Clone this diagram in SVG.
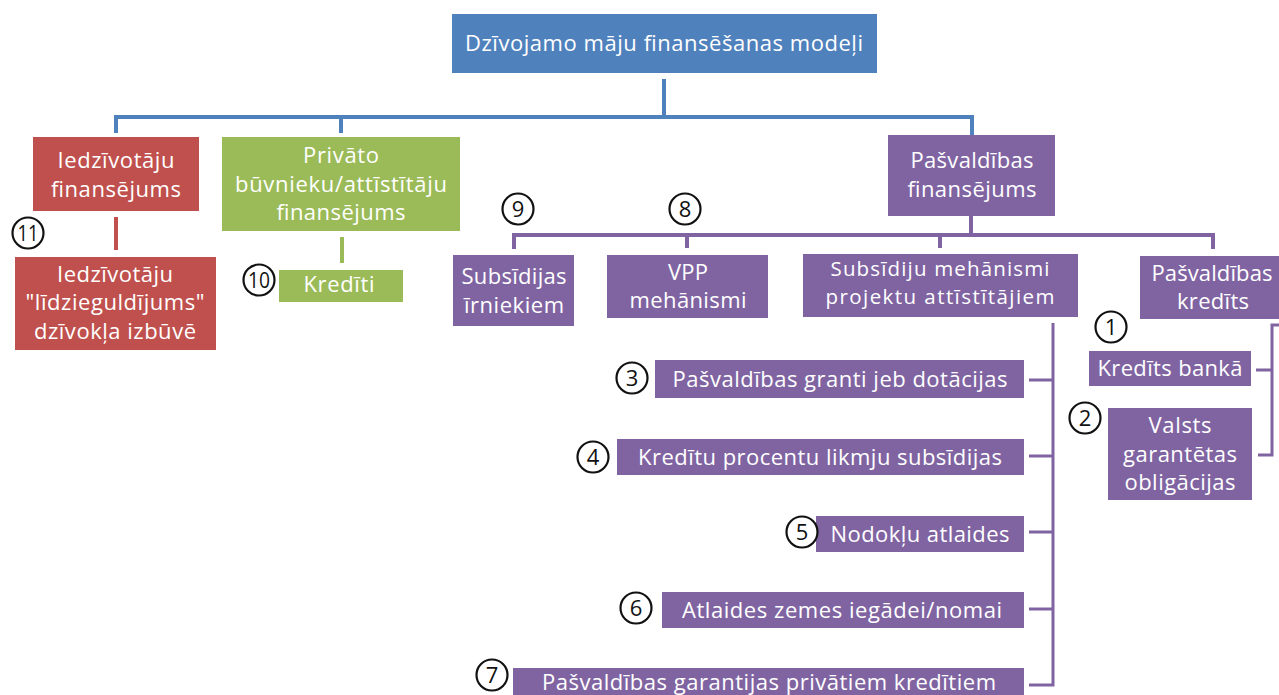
<svg xmlns="http://www.w3.org/2000/svg" width="1279" height="695" viewBox="0 0 1279 695">
<style>
text{font-family:"Open Sans","Noto Sans","Liberation Sans",sans-serif;font-size:22px;fill:#ffffff;text-anchor:middle}
text.t{font-size:20.5px}
.blue{fill:#4F81BD}.red{fill:#C0504D}.green{fill:#9BBB59}.purple{fill:#8064A2}
.c circle{fill:#ffffff;stroke:#111111;stroke-width:2.2}
.c text{fill:#111111;font-size:22px}
.c text.s{font-size:21px}
.lb{stroke:#4F81BD;stroke-width:4;fill:none}
.lr{stroke:#C0504D;stroke-width:4;fill:none}
.lg{stroke:#9BBB59;stroke-width:4;fill:none}
.lp{stroke:#8064A2;stroke-width:4;fill:none}
.lp3{stroke:#8064A2;stroke-width:3;fill:none}
</style>
<rect width="1279" height="695" fill="#ffffff"/>
<g id="connectors">
<path class="lb" d="M664,79 V117 M116,133 V117 H972 V135 M341,117 V133"/>
<path class="lr" d="M116,217 V250"/>
<path class="lg" d="M342,237 V263"/>
<path class="lp" d="M971,216 V235 M514,249 V235 H1213 V249 M687,235 V248 M940,235 V248"/>
<path class="lp3" d="M1053,323 V685 H1029 M1029,380 H1053 M1029,456 H1053 M1029,532 H1053 M1029,609 H1053"/>
<path class="lp3" d="M1279,325 H1272 V455 H1258 M1256,370 H1272"/>
</g>
<g id="root"><rect class="blue" x="452" y="14" width="425" height="59"/><text x="664" y="51" textLength="398">Dzīvojamo māju finansēšanas modeļi</text></g>
<g id="iedzivotaju-fin"><rect class="red" x="33" y="137" width="166" height="74"/><text x="116" y="168" textLength="117">Iedzīvotāju</text><text x="116" y="197" textLength="130">finansējums</text></g>
<g id="privato"><rect class="green" x="222" y="137" width="238" height="94"/><text x="341" y="163" textLength="76">Privāto</text><text x="341" y="192" textLength="212">būvnieku/attīstītāju</text><text x="341" y="220" textLength="129">finansējums</text></g>
<g id="pasvaldibas-fin"><rect class="purple" x="888" y="135" width="167" height="81"/><text x="972" y="168" textLength="123">Pašvaldības</text><text x="972" y="197" textLength="129">finansējums</text></g>
<g id="lidzieguldijums"><rect class="red" x="15" y="257" width="201" height="93"/><text x="115" y="282" textLength="116">Iedzīvotāju</text><text x="115" y="310" textLength="179">"līdzieguldījums"</text><text x="115" y="339" textLength="162">dzīvokļa izbūvē</text></g>
<g id="krediti"><rect class="green" x="279" y="270" width="124" height="32"/><text x="339" y="292" textLength="71">Kredīti</text></g>
<g id="subsidijas-irn"><rect class="purple" x="453" y="255" width="121" height="71"/><text x="514" y="284" textLength="105">Subsīdijas</text><text x="514" y="313" textLength="100">īrniekiem</text></g>
<g id="vpp"><rect class="purple" x="607" y="255" width="161" height="63"/><text x="688" y="280" textLength="40">VPP</text><text x="688" y="308" textLength="117">mehānismi</text></g>
<g id="subsidiju-meh"><rect class="purple" x="803" y="254" width="275" height="63"/><text class="t" x="940" y="276" textLength="219">Subsīdiju mehānismi</text><text class="t" x="940" y="304" textLength="229">projektu attīstītājiem</text></g>
<g id="pasvaldibas-kred"><rect class="purple" x="1140" y="256" width="139" height="63"/><text x="1212" y="281" textLength="121">Pašvaldības</text><text x="1213" y="309" textLength="72">kredīts</text></g>
<g id="kredits-banka"><rect class="purple" x="1089" y="351" width="162" height="35"/><text x="1170" y="376" textLength="145">Kredīts bankā</text></g>
<g id="valsts"><rect class="purple" x="1108" y="408" width="144" height="92"/><text x="1180" y="433" textLength="63">Valsts</text><text x="1180" y="462" textLength="114">garantētas</text><text x="1180" y="490" textLength="111">obligācijas</text></g>
<g id="granti"><rect class="purple" x="655" y="360" width="369" height="38"/><text x="840" y="387" textLength="335">Pašvaldības granti jeb dotācijas</text></g>
<g id="procentu"><rect class="purple" x="617" y="439" width="407" height="36"/><text x="820" y="465" textLength="364">Kredītu procentu likmju subsīdijas</text></g>
<g id="nodoklu"><rect class="purple" x="816" y="516" width="208" height="36"/><text x="920" y="542" textLength="179">Nodokļu atlaides</text></g>
<g id="zemes"><rect class="purple" x="662" y="592" width="362" height="36"/><text x="842" y="618" textLength="320">Atlaides zemes iegādei/nomai</text></g>
<g id="garantijas"><rect class="purple" x="513" y="668" width="511" height="30"/><text x="769" y="690" textLength="454">Pašvaldības garantijas privātiem kredītiem</text></g>
<g id="markers" class="c">
<g id="m11"><circle cx="28" cy="233" r="15.5"/><text class="s" x="28" y="240.5" textLength="21" lengthAdjust="spacingAndGlyphs">11</text></g>
<g id="m10"><circle cx="259" cy="280" r="15.5"/><text class="s" x="259" y="287.5" textLength="22" lengthAdjust="spacingAndGlyphs">10</text></g>
<g id="m9"><circle cx="518" cy="209" r="15.5"/><text x="518" y="217">9</text></g>
<g id="m8"><circle cx="685" cy="209" r="15.5"/><text x="685" y="217">8</text></g>
<g id="m1"><circle cx="1111" cy="327" r="15.5"/><text x="1111" y="335">1</text></g>
<g id="m2"><circle cx="1085" cy="418" r="15.5"/><text x="1085" y="426">2</text></g>
<g id="m3"><circle cx="632" cy="378" r="15.5"/><text x="632" y="386">3</text></g>
<g id="m4"><circle cx="593" cy="457" r="15.5"/><text x="593" y="465">4</text></g>
<g id="m5"><circle cx="802" cy="532" r="15.5"/><text x="802" y="540">5</text></g>
<g id="m6"><circle cx="636" cy="608" r="15.5"/><text x="636" y="616">6</text></g>
<g id="m7"><circle cx="492" cy="675" r="15.5"/><text x="492" y="683">7</text></g>
</g>
</svg>
